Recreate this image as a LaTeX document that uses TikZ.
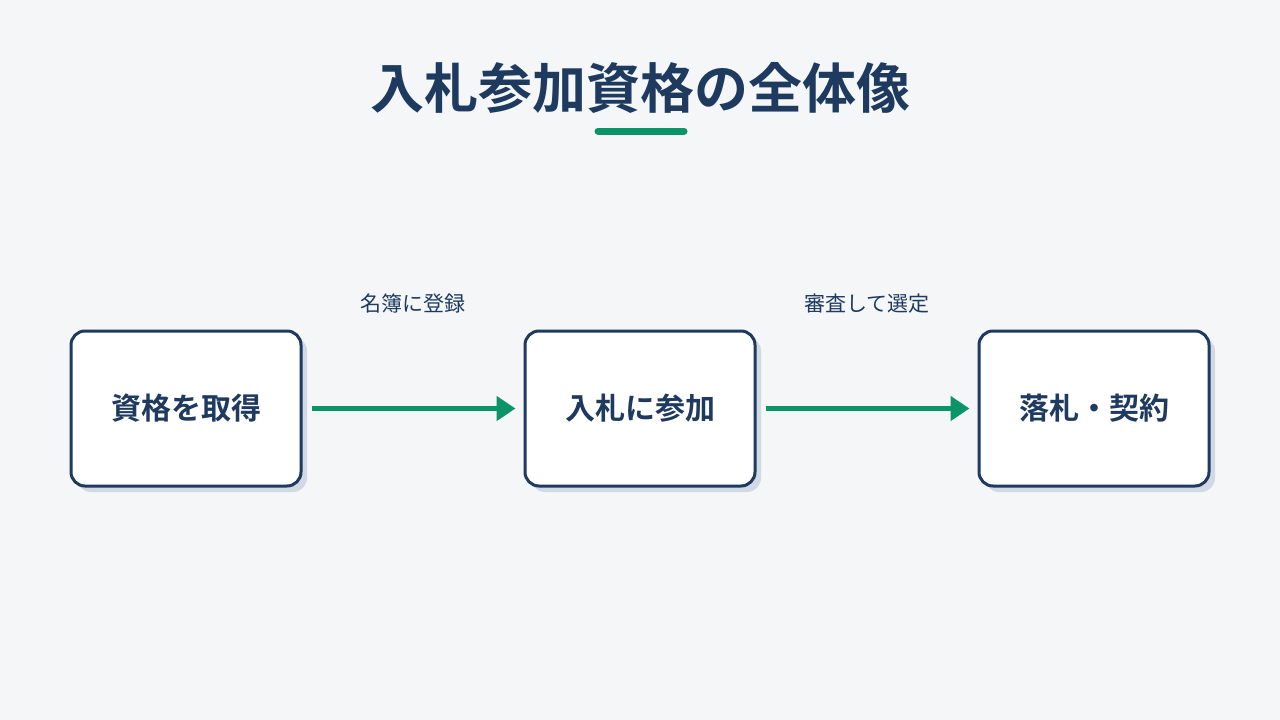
\documentclass[tikz,border=0pt]{standalone}
\usepackage{fontspec}
\setmainfont{Noto Sans CJK JP}[BoldFont={Noto Sans CJK JP Bold}]
\usetikzlibrary{arrows.meta,positioning,shadows}
\definecolor{navy}{HTML}{1E3A5F}
\definecolor{accent}{HTML}{0A9467}
\definecolor{bg}{HTML}{F4F6F8}
\definecolor{shade}{HTML}{D2D9E4}
\begin{document}
\begin{tikzpicture}[x=1pt, y=-1pt,
  stage/.style={draw=navy, line width=3pt, fill=white, rounded corners=14pt,
    minimum width=230pt, minimum height=155pt, text=navy,
    font=\fontsize{30}{34}\selectfont\bfseries,
    drop shadow={shadow xshift=6pt, shadow yshift=-6pt, fill=shade, opacity=1}},
  flow/.style={accent, line width=5pt, -{Triangle[length=19pt,width=24pt]},
    shorten <=9pt, shorten >=8pt},
  note/.style={text=navy, font=\fontsize{21}{24}\selectfont}]
  \fill[bg] (0,0) rectangle (1280,720);
  \useasboundingbox (0,0) rectangle (1280,720);
  \node[text=navy, font=\fontsize{54}{60}\selectfont\bfseries] (title) at (640,88) {入札参加資格の全体像};
  \draw[accent, line width=7pt, line cap=round] (598,131) -- (684,131);
  \node[stage] (get) at (186,408.5) {資格を取得};
  \node[stage, right=221pt of get] (bid) {入札に参加};
  \node[stage, right=221pt of bid] (win) {落札・契約};
  \draw[flow] (get) -- (bid) node[note, midway, above=89pt] {名簿に登録};
  \draw[flow] (bid) -- (win) node[note, midway, above=89pt] {審査して選定};
\end{tikzpicture}
\end{document}
